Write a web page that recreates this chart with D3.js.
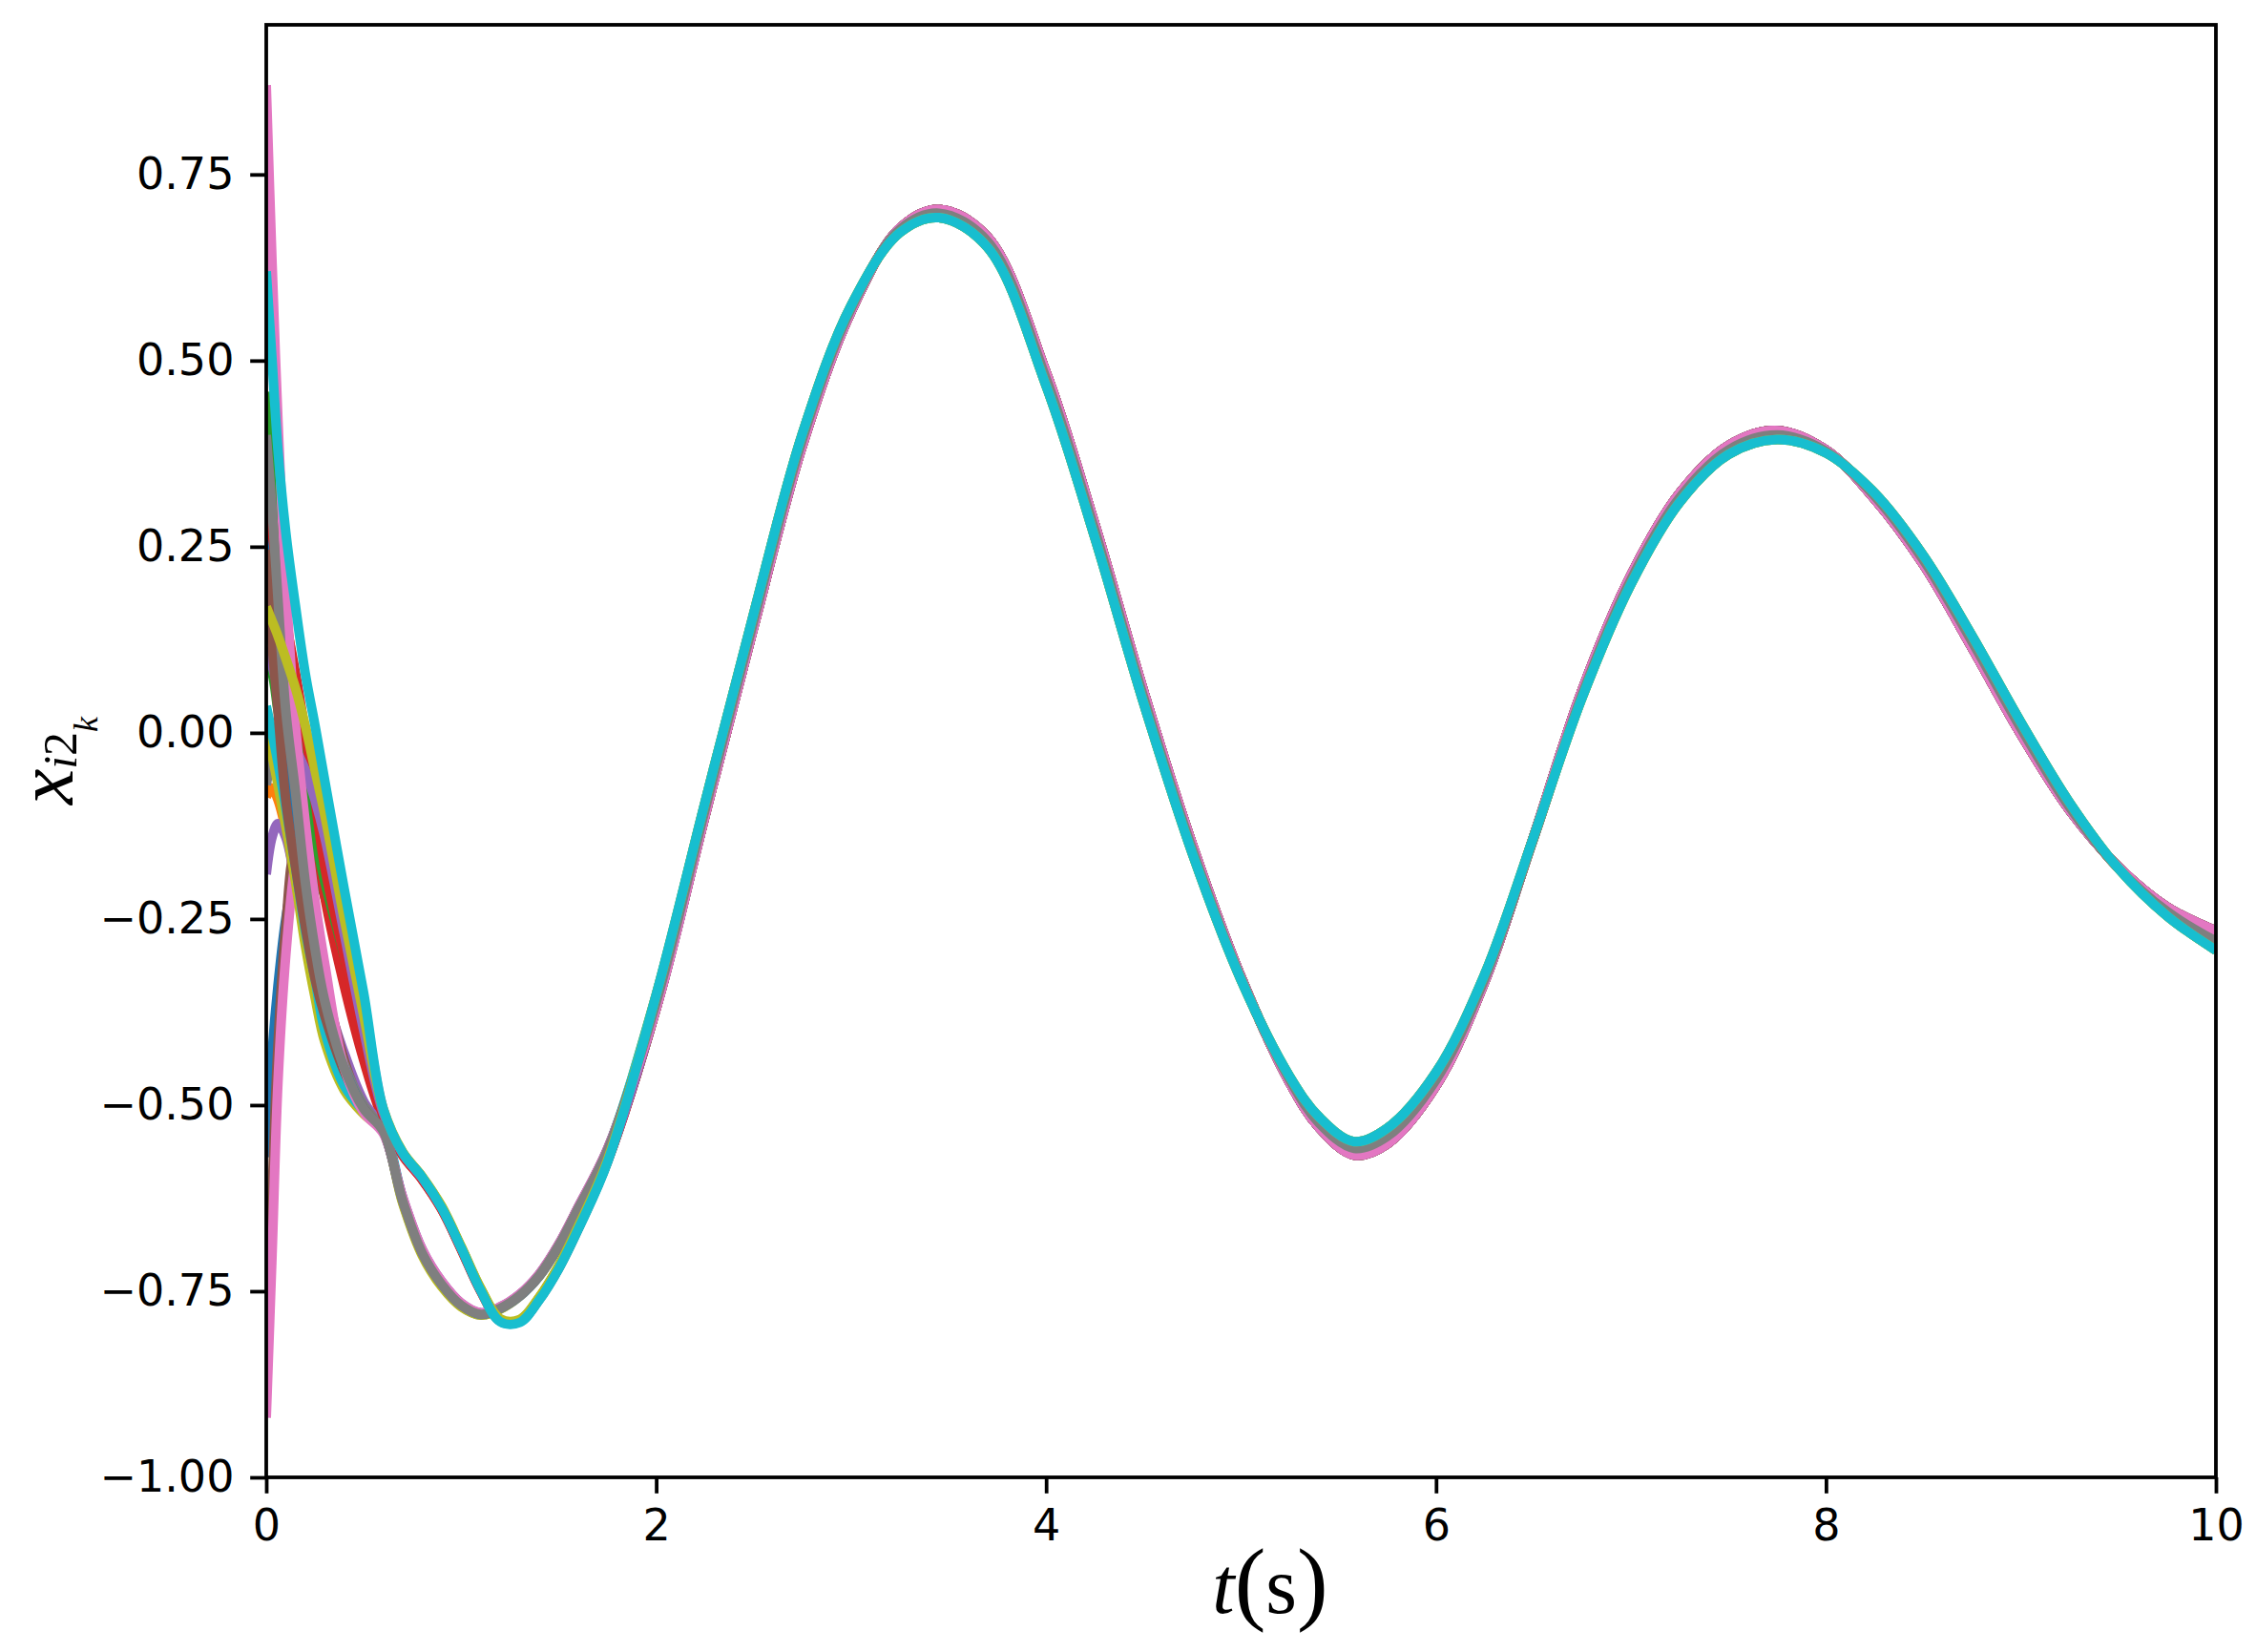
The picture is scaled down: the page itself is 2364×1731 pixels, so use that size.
<!DOCTYPE html>
<html>
<head>
<meta charset="utf-8">
<script src="https://cdn.jsdelivr.net/npm/d3@7/dist/d3.min.js"></script>
<style>
  body { margin: 0; background: #ffffff; }
  svg { display: block; }
</style>
</head>
<body>
<div id="chart"></div>
<script>
// time samples (s): dense while the agents still disagree, coarser once they have converged
var tEarly = [0, 0.03, 0.06, 0.1, 0.15, 0.2, 0.25, 0.3, 0.4, 0.5, 0.6, 0.7, 0.8, 0.9, 1.0, 1.1, 1.2, 1.3, 1.4, 1.5, 1.6, 1.75];
var tLate = [2.0, 2.25, 2.5, 2.75, 3.0, 3.25, 3.45, 3.7, 4.0, 4.25, 4.5, 4.75, 5.0, 5.25, 5.4, 5.58, 5.75,
             6.0, 6.25, 6.5, 6.75, 7.0, 7.25, 7.5, 7.75, 8.0, 8.25, 8.5, 8.75, 9.0, 9.25, 9.5, 9.75, 10.0];

// early transient of each agent (values at tEarly)
var blueA   = [-0.57, -0.43, -0.34, -0.25, -0.18, -0.14, -0.135, -0.16, -0.27, -0.39, -0.51, -0.566, -0.599, -0.639, -0.693, -0.749, -0.789, -0.789, -0.759, -0.717, -0.664, -0.574];
var orangeA = [-0.086, -0.074, -0.09, -0.13, -0.20, -0.27, -0.335, -0.385, -0.46, -0.505, -0.535, -0.628, -0.697, -0.740, -0.768, -0.781, -0.773, -0.756, -0.729, -0.689, -0.639, -0.561];
var greenA  = [0.097, 0.08, 0.03, -0.03, -0.08, -0.13, -0.18, -0.22, -0.31, -0.41, -0.515, -0.564, -0.597, -0.637, -0.691, -0.747, -0.788, -0.789, -0.759, -0.717, -0.664, -0.575];
var redA    = [0.298, 0.25, 0.20, 0.14, 0.07, -0.03, -0.13, -0.22, -0.34, -0.44, -0.52, -0.568, -0.600, -0.640, -0.694, -0.750, -0.790, -0.791, -0.761, -0.719, -0.666, -0.576];
var purpleA = [-0.19, -0.14, -0.122, -0.14, -0.20, -0.26, -0.31, -0.35, -0.43, -0.495, -0.533, -0.624, -0.694, -0.737, -0.766, -0.779, -0.771, -0.754, -0.727, -0.687, -0.637, -0.559];
var brownB  = [-0.85, -0.62, -0.42, -0.26, -0.16, -0.18, -0.25, -0.33, -0.44, -0.505, -0.535, -0.626, -0.696, -0.739, -0.767, -0.780, -0.772, -0.755, -0.728, -0.688, -0.638, -0.560];
var pinkB   = [-0.92, -0.70, -0.47, -0.30, -0.17, -0.10, -0.078, -0.11, -0.22, -0.36, -0.505, -0.565, -0.598, -0.638, -0.692, -0.748, -0.789, -0.790, -0.760, -0.718, -0.665, -0.576];
var grayA   = [-0.07, -0.03, -0.005, -0.02, -0.10, -0.20, -0.29, -0.36, -0.445, -0.50, -0.534, -0.630, -0.700, -0.742, -0.770, -0.782, -0.774, -0.757, -0.730, -0.690, -0.640, -0.562];
var oliveA  = [0.008, -0.03, -0.07, -0.125, -0.20, -0.285, -0.355, -0.415, -0.48, -0.512, -0.536, -0.632, -0.702, -0.744, -0.771, -0.782, -0.774, -0.756, -0.729, -0.689, -0.639, -0.561];
var cyanA   = [0.036, 0.0, -0.04, -0.10, -0.18, -0.265, -0.33, -0.40, -0.474, -0.508, -0.532, -0.625, -0.695, -0.738, -0.767, -0.780, -0.772, -0.755, -0.728, -0.688, -0.638, -0.560];
var blueB   = [0.27, 0.16, 0.07, -0.03, -0.12, -0.21, -0.29, -0.36, -0.45, -0.505, -0.536, -0.627, -0.697, -0.740, -0.768, -0.781, -0.773, -0.756, -0.729, -0.689, -0.639, -0.561];
var orangeB = [0.42, 0.34, 0.26, 0.16, 0.07, -0.01, -0.07, -0.13, -0.27, -0.40, -0.51, -0.566, -0.599, -0.639, -0.692, -0.748, -0.789, -0.790, -0.760, -0.718, -0.665, -0.575];
var greenB  = [0.458, 0.36, 0.27, 0.16, 0.04, -0.06, -0.14, -0.20, -0.30, -0.40, -0.51, -0.565, -0.598, -0.638, -0.692, -0.748, -0.789, -0.790, -0.760, -0.718, -0.665, -0.575];
var redB    = [0.33, 0.27, 0.21, 0.15, 0.08, 0.0, -0.09, -0.18, -0.30, -0.41, -0.515, -0.567, -0.600, -0.640, -0.693, -0.749, -0.790, -0.791, -0.761, -0.719, -0.666, -0.576];
var purpleB = [0.115, 0.09, 0.06, 0.02, -0.02, -0.05, -0.09, -0.14, -0.27, -0.40, -0.51, -0.565, -0.598, -0.638, -0.692, -0.748, -0.789, -0.790, -0.760, -0.718, -0.665, -0.575];
var brownA  = [0.246, 0.12, 0.03, -0.09, -0.18, -0.26, -0.33, -0.38, -0.455, -0.505, -0.535, -0.626, -0.696, -0.739, -0.767, -0.780, -0.772, -0.755, -0.728, -0.688, -0.638, -0.560];
var pinkA   = [0.87, 0.63, 0.42, 0.20, 0.01, -0.12, -0.225, -0.31, -0.45, -0.51, -0.538, -0.624, -0.694, -0.737, -0.766, -0.779, -0.771, -0.754, -0.727, -0.687, -0.637, -0.559];
var grayB   = [0.40, 0.30, 0.18, 0.03, -0.08, -0.20, -0.29, -0.36, -0.45, -0.505, -0.535, -0.629, -0.699, -0.741, -0.769, -0.781, -0.773, -0.756, -0.729, -0.689, -0.639, -0.561];
var oliveB  = [0.169, 0.15, 0.13, 0.10, 0.06, 0.01, -0.05, -0.11, -0.25, -0.38, -0.505, -0.563, -0.596, -0.636, -0.690, -0.746, -0.787, -0.788, -0.758, -0.716, -0.663, -0.574];
var cyanB   = [0.62, 0.50, 0.38, 0.27, 0.17, 0.08, 0.01, -0.064, -0.21, -0.35, -0.505, -0.564, -0.597, -0.638, -0.692, -0.749, -0.791, -0.792, -0.762, -0.720, -0.667, -0.577];

// converged oscillation (values at tLate): lower, middle and upper edge of the bundle
var lateLo  = [-0.352, -0.094, 0.160, 0.402, 0.574, 0.672, 0.692, 0.652, 0.466, 0.262, 0.040, -0.162, -0.332, -0.462, -0.516, -0.549, -0.531,
               -0.456, -0.324, -0.140, 0.048, 0.200, 0.310, 0.374, 0.394, 0.376, 0.322, 0.238, 0.130, 0.014, -0.094, -0.182, -0.246, -0.292];
var lateMid = [-0.362, -0.104, 0.150, 0.394, 0.570, 0.676, 0.698, 0.660, 0.476, 0.272, 0.048, -0.156, -0.330, -0.466, -0.524, -0.558, -0.542,
               -0.466, -0.330, -0.142, 0.052, 0.206, 0.316, 0.380, 0.400, 0.378, 0.318, 0.232, 0.122, 0.006, -0.100, -0.182, -0.240, -0.280];
var lateHi  = [-0.370, -0.112, 0.142, 0.386, 0.566, 0.678, 0.703, 0.666, 0.484, 0.280, 0.056, -0.150, -0.328, -0.470, -0.530, -0.567, -0.552,
               -0.474, -0.334, -0.140, 0.058, 0.212, 0.322, 0.386, 0.406, 0.380, 0.314, 0.226, 0.114, -0.002, -0.104, -0.180, -0.234, -0.266];

// plotting order (matplotlib colour cycle, two agents per colour)
var seriesEarly = [blueA, orangeA, greenA, redA, purpleA, brownB, pinkB, grayA, oliveA, cyanA,
                   blueB, orangeB, greenB, redB, purpleB, brownA, pinkA, grayB, oliveB, cyanB];
var seriesLate = [lateHi, lateHi, lateHi, lateHi, lateHi, lateMid, lateHi, lateMid, lateLo, lateLo,
                  lateHi, lateHi, lateHi, lateHi, lateHi, lateMid, lateHi, lateMid, lateLo, lateLo];
var colors = ["#1f77b4", "#ff7f0e", "#2ca02c", "#d62728", "#9467bd", "#8c564b", "#e377c2", "#7f7f7f", "#bcbd22", "#17becf"];

var xTicks = [0, 2, 4, 6, 8, 10];
var yTicks = [-1.0, -0.75, -0.5, -0.25, 0.0, 0.25, 0.5, 0.75];
var yTickLabels = ["\u22121.00", "\u22120.75", "\u22120.50", "\u22120.25", "0.00", "0.25", "0.50", "0.75"];

var ChartApp = function()
{
  this.WIDTH = 2364;
  this.HEIGHT = 1731;
  this.LINE_WIDTH = 10;
  this.SPINE_WIDTH = 3.8;
  this.TICK_SIZE = 16.8;
  this.FONT_SIZE = 46;
  this.plot = { left: 279, right: 2322, top: 26, bottom: 1548 };
  this.svg = null;

  this.x = d3.scaleLinear().domain([0, 10]).range([this.plot.left, this.plot.right]);
  this.y = d3.scaleLinear().domain([-1.0, 0.951]).range([this.plot.bottom, this.plot.top]);
};

ChartApp.prototype.initializeSvg = function()
{
  this.svg = d3.select("#chart").append("svg")
                               .attr("width", this.WIDTH)
                               .attr("height", this.HEIGHT);

  this.svg.append("rect")
          .attr("width", this.WIDTH)
          .attr("height", this.HEIGHT)
          .attr("fill", "#ffffff");

  this.svg.append("clipPath")
          .attr("id", "plotClip")
          .append("rect")
          .attr("x", this.plot.left)
          .attr("y", this.plot.top)
          .attr("width", this.plot.right - this.plot.left)
          .attr("height", this.plot.bottom - this.plot.top);
}

ChartApp.prototype.buildPoints = function(i)
{
  var points = [];
  var early = seriesEarly[i];
  var late = seriesLate[i];
  for(var j = 0; j < tEarly.length; j++)
  {
    points.push([tEarly[j], early[j]]);
  }
  for(var k = 0; k < tLate.length; k++)
  {
    points.push([tLate[k], late[k]]);
  }
  return points;
}

ChartApp.prototype.drawLines = function()
{
  var self = this;
  var line = d3.line()
               .x(function (p) { return self.x(p[0]); })
               .y(function (p) { return self.y(p[1]); })
               .curve(d3.curveCatmullRom.alpha(0.5));

  var data = seriesEarly.map(function (s, i) { return self.buildPoints(i); });

  this.svg.append("g")
          .attr("clip-path", "url(#plotClip)")
          .selectAll("path")
          .data(data)
          .enter().append("path")
          .attr("d", line)
          .attr("fill", "none")
          .attr("stroke", function (d, i) { return colors[i % colors.length]; })
          .attr("stroke-width", this.LINE_WIDTH)
          .attr("stroke-linejoin", "round")
          .attr("stroke-linecap", "butt");
}

ChartApp.prototype.drawAxes = function()
{
  var self = this;
  var yAxis = d3.axisLeft(this.y)
                .tickValues(yTicks)
                .tickFormat(function (d, i) { return yTickLabels[i]; })
                .tickSize(this.TICK_SIZE)
                .tickPadding(this.TICK_SIZE);

  var xAxis = d3.axisBottom(this.x)
                .tickValues(xTicks)
                .tickFormat(d3.format("d"))
                .tickSize(this.TICK_SIZE)
                .tickPadding(this.TICK_SIZE);

  var gy = this.svg.append("g")
                   .attr("transform", "translate(" + this.plot.left + ",0)")
                   .call(yAxis);
  var gx = this.svg.append("g")
                   .attr("transform", "translate(0," + this.plot.bottom + ")")
                   .call(xAxis);

  [gx, gy].forEach(function (g) {
    g.select(".domain").remove();
    g.attr("font-family", "'DejaVu Sans', sans-serif")
     .attr("font-size", self.FONT_SIZE);
    g.selectAll(".tick line")
     .attr("stroke", "#000000")
     .attr("stroke-width", self.SPINE_WIDTH);
    g.selectAll(".tick text")
     .attr("fill", "#000000");
  });

  // frame drawn over the lines, like matplotlib spines
  this.svg.append("rect")
          .attr("x", this.plot.left)
          .attr("y", this.plot.top)
          .attr("width", this.plot.right - this.plot.left)
          .attr("height", this.plot.bottom - this.plot.top)
          .attr("fill", "none")
          .attr("stroke", "#000000")
          .attr("stroke-width", this.SPINE_WIDTH)
          .attr("stroke-linejoin", "miter");
}

ChartApp.prototype.drawLabels = function()
{
  var xLabel = this.svg.append("text")
                       .attr("x", 1331)
                       .attr("y", 1690)
                       .attr("text-anchor", "middle")
                       .attr("font-family", "'Liberation Serif', serif")
                       .attr("font-size", 84);
  xLabel.append("tspan").attr("font-style", "italic").text("t");
  xLabel.append("tspan").attr("font-size", 98).text("(");
  xLabel.append("tspan").text("s");
  xLabel.append("tspan").attr("font-size", 98).text(")");

  var yLabel = this.svg.append("text")
                       .attr("transform", "translate(76,797) rotate(-90)")
                       .attr("text-anchor", "middle")
                       .attr("font-family", "'Liberation Serif', serif")
                       .attr("font-size", 84);
  yLabel.append("tspan").attr("font-style", "italic").text("x");
  yLabel.append("tspan").attr("font-style", "italic").attr("font-size", 50).attr("dy", 4).text("i");
  yLabel.append("tspan").attr("font-size", 50).text("2");
  yLabel.append("tspan").attr("font-style", "italic").attr("font-size", 36).attr("dy", 22).text("k");
}

var chartApp = new ChartApp();
chartApp.initializeSvg();
chartApp.drawLines();
chartApp.drawAxes();
chartApp.drawLabels();
</script>
</body>
</html>
